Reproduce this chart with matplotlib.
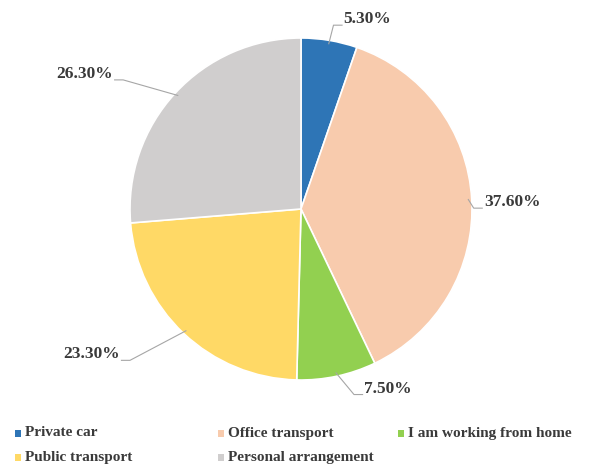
import matplotlib.pyplot as plt
import numpy as np
from matplotlib.patches import Rectangle

# %% DATA
categories = ["Private car", "Office transport", "I am working from home",
              "Public transport", "Personal arrangement"]
shares = [5.3, 37.6, 7.5, 23.3, 26.3]
labels = ["5.30%", "37.60%", "7.50%", "23.30%", "26.30%"]
colors = ["#2E75B6", "#F8CBAD", "#92D050", "#FFD966", "#D0CECE"]

# label placement (data units, radius = 1): text anchor
label_pos = [(0.25, 1.11), (1.07, 0.04), (0.37, -1.05), (-1.06, -0.85), (-1.10, 0.79)]
label_ha = ["left", "left", "left", "right", "right"]

plt.rcParams["font.family"] = ["Liberation Serif", "DejaVu Serif"]
plt.rcParams["font.weight"] = "bold"

fig = plt.figure(figsize=(5.93, 4.66), dpi=100)
# pie centre at (301, 209) px, radius 171 px
cx, cy, r = 301, 209, 171
ax = fig.add_axes([(cx - r) / 593, (466 - cy - r) / 466, 2 * r / 593, 2 * r / 466])
wedges, _ = ax.pie(shares, colors=colors, startangle=90, counterclock=False,
                   radius=1.0, wedgeprops=dict(edgecolor="white", linewidth=1.2))
ax.set_xlim(-1, 1)
ax.set_ylim(-1, 1)
ax.set_aspect("equal")
ax.axis("off")

# leader lines and labels
for w, lab, (tx, ty), ha in zip(wedges, labels, label_pos, label_ha):
    ang = np.deg2rad((w.theta1 + w.theta2) / 2)
    ex, ey = 0.98 * np.cos(ang), 0.98 * np.sin(ang)
    sign = 1 if ha == "left" else -1
    elbow_x = tx - sign * 0.06
    ax.plot([ex, elbow_x, tx - sign * 0.01], [ey, ty - 0.035, ty - 0.035],
            color="#A6A6A6", linewidth=0.8, clip_on=False)
    ax.text(tx, ty, lab, ha=ha, va="center", fontsize=12.5, fontweight="bold",
            color="#3A3A3A", clip_on=False)

# legend drawn by hand: two rows, three columns
legend_xy = [(15, 433), (218, 433), (398, 433), (15, 457), (218, 457)]
for (lx, ly), cat, col in zip(legend_xy, categories, colors):
    fig.add_artist(Rectangle((lx / 593, (466 - ly - 3.5) / 466), 6 / 593, 7 / 466,
                             transform=fig.transFigure, facecolor=col, edgecolor="none"))
    fig.text((lx + 10) / 593, (466 - ly) / 466, cat, ha="left", va="center",
             fontsize=11, fontweight="bold", color="#3A3A3A")

fig.savefig("out.png", dpi=100)
